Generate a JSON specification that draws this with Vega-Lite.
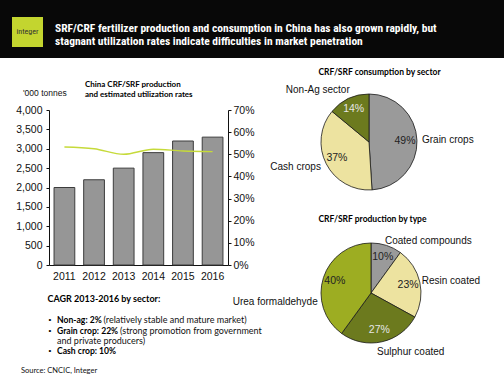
{
  "$schema": "https://vega.github.io/schema/vega-lite/v6.json",
  "width": 504,
  "height": 384,
  "padding": 0,
  "autosize": {"type": "none"},
  "background": "white",
  "config": {"view": {"stroke": null}, "font": "Liberation Sans"},
  "data": {"values": [{}]},
  "layer": [
    {"mark": {"type": "rect", "x": 0, "x2": 504, "y": 0, "y2": 58, "color": "#080808"}},
    {"mark": {"type": "rule", "x": 0, "x2": 504, "y": 1, "color": "#6b6b6b", "strokeWidth": 2}, "encoding": {}},
    {"mark": {"type": "rect", "x": 12, "x2": 43, "y": 17, "y2": 47, "color": "#c3d52f"}},
    {"mark": {"type": "text", "x": 27.5, "y": 32, "text": "integer", "fontSize": 8, "color": "#333333", "align": "center", "baseline": "middle", "font": "Roboto Condensed"}},
    {"mark": {"type": "text", "x": 55, "y": 32, "text": ["SRF/CRF fertilizer production and consumption in China has also grown rapidly, but", "stagnant utilization rates indicate difficulties in market penetration"], "lineHeight": 12.5, "fontSize": 11.5, "fontWeight": "bold", "color": "white", "align": "left", "baseline": "alphabetic", "font": "Roboto Condensed"}},
    {
      "data": {"values": [
        {"year": "2011", "production": 2000, "utilization": 0.533},
        {"year": "2012", "production": 2200, "utilization": 0.525},
        {"year": "2013", "production": 2500, "utilization": 0.5},
        {"year": "2014", "production": 2900, "utilization": 0.523},
        {"year": "2015", "production": 3200, "utilization": 0.515},
        {"year": "2016", "production": 3300, "utilization": 0.512}
      ]},
      "layer": [
        {
          "mark": {"type": "bar", "color": "#969696", "stroke": "#3c3c3c", "strokeWidth": 1},
          "encoding": {
            "x": {"field": "year", "type": "ordinal", "scale": {"range": [49, 228], "paddingInner": 0.3, "paddingOuter": 0.17},
              "axis": {"title": null, "labelAngle": 0, "ticks": false, "offset": -119, "domainColor": "#111111", "labelColor": "#111111", "labelFontSize": 10.5, "labelPadding": 6}},
            "y": {"field": "production", "type": "quantitative", "scale": {"domain": [0, 4000], "range": [265, 110]},
              "axis": {"orient": "left", "title": null, "offset": -49, "values": [0, 500, 1000, 1500, 2000, 2500, 3000, 3500, 4000], "format": ",.0f", "grid": false, "tickSize": 3, "domainColor": "#111111", "tickColor": "#111111", "labelColor": "#111111", "labelFontSize": 10.5, "labelPadding": 4}}
          }
        },
        {
          "mark": {"type": "line", "color": "#c6da3a", "strokeWidth": 1.4, "interpolate": "monotone"},
          "encoding": {
            "x": {"field": "year", "type": "ordinal", "scale": {"range": [49, 228], "paddingInner": 0.3, "paddingOuter": 0.17}},
            "y": {"field": "utilization", "type": "quantitative", "scale": {"domain": [0, 0.7], "range": [265, 110]},
              "axis": {"orient": "right", "offset": -276, "title": null, "values": [0, 0.1, 0.2, 0.3, 0.4, 0.5, 0.6, 0.7], "format": ".0%", "grid": false, "tickSize": 3, "domainColor": "#111111", "tickColor": "#111111", "labelColor": "#111111", "labelFontSize": 10.5, "labelPadding": 2}}
          }
        }
      ],
      "resolve": {"scale": {"y": "independent"}, "axis": {"y": "independent"}}
    },
    {
      "data": {"values": [
        {"category": "Grain crops", "share": 0.49, "rank": 1},
        {"category": "Cash crops", "share": 0.37, "rank": 2},
        {"category": "Non-Ag sector", "share": 0.14, "rank": 3}
      ]},
      "encoding": {
        "theta": {"field": "share", "type": "quantitative", "stack": true},
        "order": {"field": "rank", "type": "quantitative"}
      },
      "layer": [
        {
          "mark": {"type": "arc", "x": 369, "y": 142, "outerRadius": 48, "stroke": "#1a1a1a", "strokeWidth": 0.8},
          "encoding": {"color": {"field": "category", "type": "nominal", "legend": null,
            "scale": {"domain": ["Grain crops", "Cash crops", "Non-Ag sector", "Coated compounds", "Resin coated", "Sulphur coated", "Urea formaldehyde"],
                      "range": ["#9a9a9a", "#ede3a0", "#6c7a1e", "#9a9a9a", "#ede3a0", "#6c7a1e", "#9dad22"]}}}
        },
        {
          "mark": {"type": "text", "x": 369, "y": 142, "radius": 36, "fontSize": 10.5, "align": "center", "baseline": "middle"},
          "encoding": {
            "text": {"field": "share", "type": "quantitative", "format": ".0%"},
            "color": {"condition": {"test": "datum.category === 'Non-Ag sector'", "value": "#e6e6e6"}, "value": "#222222"}
          }
        },
        {
          "mark": {"type": "text", "x": 369, "y": 142, "radius": 53, "fontSize": 10, "align": "left", "baseline": "middle", "color": "#111111"},
          "encoding": {"text": {"condition": {"test": "datum.category === 'Grain crops'", "field": "category"}, "value": ""}}
        },
        {
          "mark": {"type": "text", "x": 369, "y": 142, "radius": 54, "fontSize": 10, "align": "right", "baseline": "middle", "color": "#111111"},
          "encoding": {"text": {"condition": {"test": "datum.category === 'Cash crops'", "field": "category"}, "value": ""}}
        },
        {
          "mark": {"type": "text", "x": 369, "y": 142, "radius": 57, "dx": 5, "fontSize": 10, "align": "right", "baseline": "middle", "color": "#111111"},
          "encoding": {"text": {"condition": {"test": "datum.category === 'Non-Ag sector'", "field": "category"}, "value": ""}}
        }
      ]
    },
    {
      "data": {"values": [
        {"category": "Coated compounds", "share": 0.10, "rank": 1},
        {"category": "Resin coated", "share": 0.23, "rank": 2},
        {"category": "Sulphur coated", "share": 0.27, "rank": 3},
        {"category": "Urea formaldehyde", "share": 0.40, "rank": 4}
      ]},
      "encoding": {
        "theta": {"field": "share", "type": "quantitative", "stack": true},
        "order": {"field": "rank", "type": "quantitative"}
      },
      "layer": [
        {
          "mark": {"type": "arc", "x": 371, "y": 293, "outerRadius": 50, "stroke": "#1a1a1a", "strokeWidth": 0.8},
          "encoding": {"color": {"field": "category", "type": "nominal", "legend": null}}
        },
        {
          "mark": {"type": "text", "x": 371, "y": 293, "radius": 38, "fontSize": 10.5, "align": "center", "baseline": "middle"},
          "encoding": {
            "text": {"field": "share", "type": "quantitative", "format": ".0%"},
            "color": {"condition": {"test": "datum.category === 'Sulphur coated'", "value": "#e6e6e6"}, "value": "#222222"}
          }
        },
        {
          "mark": {"type": "text", "x": 371, "y": 293, "radius": 55, "dx": -3, "fontSize": 10, "align": "left", "baseline": "middle", "color": "#111111"},
          "encoding": {"text": {"condition": {"test": "datum.category === 'Coated compounds' || datum.category === 'Resin coated'", "field": "category"}, "value": ""}}
        },
        {
          "mark": {"type": "text", "x": 371, "y": 293, "radius": 60, "dx": -7, "fontSize": 10, "align": "left", "baseline": "middle", "color": "#111111"},
          "encoding": {"text": {"condition": {"test": "datum.category === 'Sulphur coated'", "field": "category"}, "value": ""}}
        },
        {
          "mark": {"type": "text", "x": 371, "y": 293, "radius": 56, "dy": 26, "fontSize": 10, "align": "right", "baseline": "middle", "color": "#111111"},
          "encoding": {"text": {"condition": {"test": "datum.category === 'Urea formaldehyde'", "field": "category"}, "value": ""}}
        }
      ]
    },
    {"mark": {"type": "text", "x": 85, "y": 87, "text": ["China CRF/SRF production", "and estimated utilization rates"], "lineHeight": 10, "fontSize": 8, "fontWeight": "bold", "color": "#000000", "align": "left", "baseline": "alphabetic", "font": "Lato"}},
    {"mark": {"type": "text", "x": 23, "y": 93, "text": "'000 tonnes", "fontSize": 8.5, "color": "#111111", "align": "left", "baseline": "middle"}},
    {"mark": {"type": "text", "x": 379.5, "y": 72, "text": "CRF/SRF consumption by sector", "fontSize": 8.5, "fontWeight": "bold", "color": "#000000", "align": "center", "font": "Lato"}},
    {"mark": {"type": "text", "x": 372.5, "y": 219.3, "text": "CRF/SRF production by type", "fontSize": 8.5, "fontWeight": "bold", "color": "#000000", "align": "center", "font": "Lato"}},
    {"mark": {"type": "text", "x": 47.5, "y": 299, "text": "CAGR 2013-2016 by sector:", "fontSize": 9, "fontWeight": "bold", "color": "#000000", "align": "left", "font": "Lato"}},
    {"mark": {"type": "rule", "x": 47.5, "x2": 148, "y": 301, "color": "#000000", "strokeWidth": 0.8}, "encoding": {}},
    {"mark": {"type": "text", "x": 48.5, "y": 320, "text": "•", "fontSize": 8, "color": "#000000", "align": "left"}},
    {"mark": {"type": "text", "x": 48.5, "y": 330.5, "text": "•", "fontSize": 8, "color": "#000000", "align": "left"}},
    {"mark": {"type": "text", "x": 48.5, "y": 351.3, "text": "•", "fontSize": 8, "color": "#000000", "align": "left"}},
    {"mark": {"type": "text", "x": 57, "y": 320, "text": "Non-ag: 2%", "fontSize": 8.6, "fontWeight": "bold", "color": "#000000", "align": "left", "font": "Lato"}},
    {"mark": {"type": "text", "x": 103.5, "y": 320, "text": "(relatively stable and mature market)", "fontSize": 9, "color": "#111111", "align": "left", "font": "Lato"}},
    {"mark": {"type": "text", "x": 57, "y": 330.5, "text": "Grain crop: 22%", "fontSize": 8.6, "fontWeight": "bold", "color": "#000000", "align": "left", "font": "Lato"}},
    {"mark": {"type": "text", "x": 120, "y": 330.5, "text": "(strong promotion from government", "fontSize": 9, "color": "#111111", "align": "left", "font": "Lato"}},
    {"mark": {"type": "text", "x": 57, "y": 341, "text": "and private producers)", "fontSize": 9, "color": "#111111", "align": "left", "font": "Lato"}},
    {"mark": {"type": "text", "x": 57, "y": 351.3, "text": "Cash crop: 10%", "fontSize": 8.6, "fontWeight": "bold", "color": "#000000", "align": "left", "font": "Lato"}},
    {"mark": {"type": "text", "x": 21, "y": 370.5, "text": "Source: CNCIC, Integer", "fontSize": 7.5, "color": "#111111", "align": "left", "font": "Lato"}},
    {"mark": {"type": "rule", "x": 0, "x2": 504, "y": 378, "color": "#bcd631", "strokeWidth": 2}, "encoding": {}}
  ],
  "resolve": {"scale": {"y": "independent"}, "axis": {"y": "independent"}}
}
